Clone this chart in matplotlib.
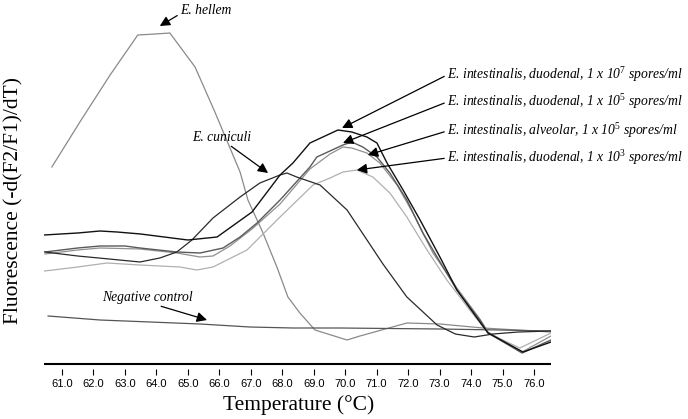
import matplotlib
import matplotlib.pyplot as plt

matplotlib.use('Agg')

plt.rcParams['font.family'] = ['Liberation Serif', 'DejaVu Serif']
plt.rcParams['mathtext.fontset'] = 'custom'
plt.rcParams['mathtext.rm'] = 'Liberation Serif'
plt.rcParams['mathtext.it'] = 'Liberation Serif:italic'

# Courbes de fusion (unités arbitraires)
hellem_t = [60.68, 61.57, 62.53, 63.41, 63.96, 64.43, 65.23, 65.86, 66.66, 66.91, 67.39, 67.83,
            68.18, 68.56, 69.04, 70.06, 70.47, 71.96, 73.01, 74.38, 76.54]
hellem_f = [197, 242, 289, 329, 330, 331, 297, 252, 192, 164, 131, 97,
            67, 51, 34, 24, 28, 41, 40, 36, 32]

negctl_t = [60.56, 62.21, 63.80, 65.39, 66.97, 68.34, 69.83, 73.01, 74.92, 76.54]
negctl_f = [48, 44, 42, 40, 37, 36, 36, 35, 34, 33]

cuniculi_t = [60.46, 61.5, 62.5, 63.48, 64.11, 64.65, 65.13, 65.80, 66.66, 67.29, 67.93, 68.15,
              68.46, 69.20, 70.06, 71.20, 71.96, 72.92, 73.5, 74.1, 74.7, 75.5, 76.54]
cuniculi_f = [112, 108, 105, 102, 106, 112, 124, 146, 167, 181, 189, 191,
              187, 179, 154, 100, 67, 39, 30, 27, 30, 32, 33]

d7_t = [60.43, 61.5, 62.21, 62.75, 63.5, 64.5, 65.00, 65.93, 67.04, 67.93, 68.34, 68.88, 69.77,
        70.21, 70.69, 71.01, 71.33, 71.84, 72.38, 73.01, 73.55, 74.28, 74.54, 75.65, 76.54]
d7_f = [129, 131, 133, 132, 130, 126, 124, 127, 152, 189, 201, 221, 234,
        232, 227, 221, 201, 174, 144, 107, 74, 42, 31, 12, 22]

d5_t = [60.46, 61.5, 62.21, 63.0, 63.48, 64.65, 65.39, 66.12, 66.66, 67.20, 67.93, 68.88, 69.10,
        69.93, 70.21, 70.56, 71.01, 71.42, 71.96, 72.47, 72.92, 73.55, 74.28, 74.54, 75.62, 76.54]
d5_f = [112, 116, 118, 118, 116, 112, 111, 116, 127, 141, 164, 197, 207,
        219, 222, 217, 207, 191, 164, 131, 107, 74, 44, 31, 11, 24]

alv_t = [60.46, 61.5, 62.21, 63.48, 64.65, 65.39, 65.80, 66.34, 67.04, 67.93, 68.88, 69.52, 69.93,
         70.21, 70.69, 71.10, 71.65, 72.15, 72.79, 73.55, 74.28, 74.54, 75.62, 76.54]
alv_f = [110, 114, 116, 115, 111, 107, 108, 118, 135, 160, 195, 210, 217,
         216, 211, 201, 179, 151, 111, 76, 45, 32, 12, 28]

d3_t = [60.45, 61.5, 62.43, 63.48, 64.75, 65.29, 65.80, 66.88, 67.93, 68.98, 69.52, 69.93, 70.37,
        70.88, 71.42, 71.96, 72.60, 73.23, 73.96, 74.54, 75.55, 76.54]
d3_f = [93, 97, 101, 99, 97, 94, 97, 114, 147, 179, 186, 192, 194,
        187, 171, 147, 114, 84, 54, 31, 16, 31]

xticks = [61.0, 62.0, 63.0, 64.0, 65.0, 66.0, 67.0, 68.0, 69.0, 70.0, 71.0, 72.0, 73.0, 74.0, 75.0, 76.0]

fig = plt.figure(figsize=(6.88, 4.19), dpi=100)
ax = fig.add_axes([44 / 688, 50 / 419, 507 / 688, 354 / 419])

ax.plot(hellem_t, hellem_f, color='#8a8a8a', lw=0.9)
ax.plot(negctl_t, negctl_f, color='#555555', lw=0.9)
ax.plot(d3_t, d3_f, color='#b0b0b0', lw=0.9)
ax.plot(alv_t, alv_f, color='#909090', lw=0.9)
ax.plot(d5_t, d5_f, color='#5a5a5a', lw=1.0)
ax.plot(cuniculi_t, cuniculi_f, color='#2a2a2a', lw=0.9)
ax.plot(d7_t, d7_f, color='#111111', lw=1.0)

ax.set_xlim(60.43, 76.54)
ax.set_ylim(-5, 349)

# Axe du bas : ligne séparée des graduations
for side in ['left', 'right', 'top', 'bottom']:
    ax.spines[side].set_visible(False)
ax.axhline(0, color='black', lw=1.5)
ax.set_yticks([])
ax.set_xticks(xticks)
ax.set_xticklabels(['%.1f' % t for t in xticks], family='Liberation Sans', fontsize=8)
ax.tick_params(axis='x', direction='out', length=4, width=0.8, pad=3)

ax.set_xlabel('Temperature (°C)', fontsize=15.5, va='center')
ax.xaxis.set_label_coords(0.502, -0.102)
ax.set_ylabel('Fluorescence (-d(F2/F1)/dT)', fontsize=15.5, va='center')
ax.yaxis.set_label_coords(-0.059, 0.475)

arrow = dict(arrowstyle='-|>', color='black', lw=0.9, mutation_scale=15, shrinkA=0, shrinkB=0)

def note(text, tip, pos, relpos=(0, 0.5)):
    a = dict(arrow, relpos=relpos)
    ax.annotate(text, xy=tip, xycoords='data', xytext=pos, textcoords='figure pixels',
                fontsize=9.8, style='italic', ha='left', va='center', arrowprops=a)

note('E. hellem', (64.11, 338), (180, 409), relpos=(0, 0.2))
note('E. cuniculi', (67.55, 191), (192, 282), relpos=(0.6, 0))
note('Negative control', (65.61, 44), (102, 122), relpos=(0.55, 0))
note('E. intestinalis, duodenal, 1 x 10$^{\\mathit{7}}$ spores/ml', (69.90, 236), (447, 344))
note('E. intestinalis, duodenal, 1 x 10$^{\\mathit{5}}$ spores/ml', (69.93, 221), (447, 317))
note('E. intestinalis, alveolar, 1 x 10$^{\\mathit{5}}$ spores/ml', (70.72, 209), (447, 288))
note('E. intestinalis, duodenal, 1 x 10$^{\\mathit{3}}$ spores/ml', (70.37, 194), (447, 261))

fig.savefig('out.png', dpi=100)
plt.close(fig)
